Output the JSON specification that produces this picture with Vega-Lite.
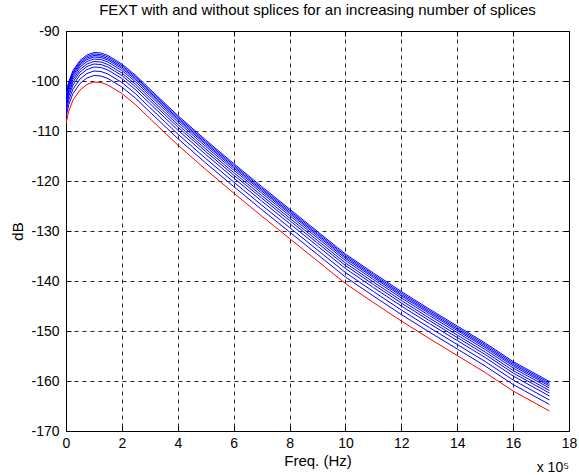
{
  "$schema": "https://vega.github.io/schema/vega-lite/v6.json",
  "width": 503,
  "height": 400,
  "autosize": "none",
  "padding": {"left": 66, "top": 31, "right": 10, "bottom": 44},
  "background": "white",
  "title": {"text": "FEXT with and without splices for an increasing number of splices", "font": "Liberation Sans", "fontSize": 15, "fontWeight": "normal", "color": "#000", "offset": 6, "anchor": "middle"},
  "config": {
    "view": {"stroke": "#000", "strokeWidth": 1},
    "axis": {"labelFont": "Liberation Sans", "labelFontSize": 14, "labelColor": "#000", "titleFont": "Liberation Sans", "titleFontSize": 15, "titleFontWeight": "normal", "titleColor": "#000", "domainColor": "#000", "tickColor": "#000", "gridColor": "#000", "gridDash": [4, 4], "gridOpacity": 0.85, "tickSize": -5, "labelFlush": false, "labelOverlap": false, "labelExpr": "'' + datum.value"}
  },
  "datasets": {
    "curves": [
      {"x": 0, "r": -108.5, "b1": -107.2, "b2": -106.3, "b3": -105.5, "b4": -104.9, "b5": -104.4, "b6": -103.9, "b7": -103.5, "b8": -103.2, "b9": -102.9, "b10": -102.6},
      {"x": 0.1, "r": -106, "b1": -104.7, "b2": -103.8, "b3": -103.0, "b4": -102.4, "b5": -101.9, "b6": -101.4, "b7": -101.0, "b8": -100.7, "b9": -100.4, "b10": -100.1},
      {"x": 0.25, "r": -103.8, "b1": -102.5, "b2": -101.6, "b3": -100.8, "b4": -100.2, "b5": -99.7, "b6": -99.2, "b7": -98.8, "b8": -98.5, "b9": -98.2, "b10": -97.9},
      {"x": 0.5, "r": -101.8, "b1": -100.5, "b2": -99.6, "b3": -98.8, "b4": -98.2, "b5": -97.7, "b6": -97.2, "b7": -96.8, "b8": -96.5, "b9": -96.2, "b10": -95.9},
      {"x": 0.75, "r": -100.7, "b1": -99.4, "b2": -98.5, "b3": -97.7, "b4": -97.1, "b5": -96.6, "b6": -96.1, "b7": -95.7, "b8": -95.4, "b9": -95.1, "b10": -94.8},
      {"x": 1.0, "r": -100.2, "b1": -98.9, "b2": -98.0, "b3": -97.2, "b4": -96.6, "b5": -96.1, "b6": -95.6, "b7": -95.2, "b8": -94.9, "b9": -94.6, "b10": -94.3},
      {"x": 1.25, "r": -100.3, "b1": -99.0, "b2": -98.1, "b3": -97.3, "b4": -96.7, "b5": -96.2, "b6": -95.7, "b7": -95.3, "b8": -95.0, "b9": -94.7, "b10": -94.4},
      {"x": 1.5, "r": -100.8, "b1": -99.5, "b2": -98.6, "b3": -97.8, "b4": -97.2, "b5": -96.7, "b6": -96.2, "b7": -95.8, "b8": -95.5, "b9": -95.2, "b10": -94.9},
      {"x": 2, "r": -102.5, "b1": -101.2, "b2": -100.3, "b3": -99.5, "b4": -98.9, "b5": -98.4, "b6": -97.9, "b7": -97.5, "b8": -97.2, "b9": -96.9, "b10": -96.6},
      {"x": 2.5, "r": -104.8, "b1": -103.5, "b2": -102.6, "b3": -101.8, "b4": -101.2, "b5": -100.7, "b6": -100.2, "b7": -99.8, "b8": -99.5, "b9": -99.2, "b10": -98.9},
      {"x": 3, "r": -107.5, "b1": -106.2, "b2": -105.3, "b3": -104.5, "b4": -103.9, "b5": -103.4, "b6": -102.9, "b7": -102.5, "b8": -102.2, "b9": -101.9, "b10": -101.6},
      {"x": 4, "r": -112.8, "b1": -111.5, "b2": -110.6, "b3": -109.8, "b4": -109.2, "b5": -108.7, "b6": -108.2, "b7": -107.8, "b8": -107.5, "b9": -107.2, "b10": -106.9},
      {"x": 5, "r": -117.7, "b1": -116.4, "b2": -115.5, "b3": -114.7, "b4": -114.1, "b5": -113.6, "b6": -113.1, "b7": -112.7, "b8": -112.4, "b9": -112.1, "b10": -111.8},
      {"x": 6, "r": -122.4, "b1": -121.1, "b2": -120.2, "b3": -119.4, "b4": -118.8, "b5": -118.3, "b6": -117.8, "b7": -117.4, "b8": -117.1, "b9": -116.8, "b10": -116.5},
      {"x": 7, "r": -127, "b1": -125.7, "b2": -124.8, "b3": -124.0, "b4": -123.4, "b5": -122.9, "b6": -122.4, "b7": -122.0, "b8": -121.7, "b9": -121.4, "b10": -121.1},
      {"x": 8, "r": -131.5, "b1": -130.2, "b2": -129.3, "b3": -128.5, "b4": -127.9, "b5": -127.4, "b6": -126.9, "b7": -126.5, "b8": -126.2, "b9": -125.9, "b10": -125.6},
      {"x": 9, "r": -136, "b1": -134.7, "b2": -133.8, "b3": -133.0, "b4": -132.4, "b5": -131.9, "b6": -131.4, "b7": -131.0, "b8": -130.7, "b9": -130.4, "b10": -130.1},
      {"x": 10, "r": -140.5, "b1": -139.2, "b2": -138.3, "b3": -137.5, "b4": -136.9, "b5": -136.4, "b6": -135.9, "b7": -135.5, "b8": -135.2, "b9": -134.9, "b10": -134.6},
      {"x": 11, "r": -144.3, "b1": -143.0, "b2": -142.1, "b3": -141.3, "b4": -140.7, "b5": -140.2, "b6": -139.7, "b7": -139.3, "b8": -139.0, "b9": -138.7, "b10": -138.4},
      {"x": 12, "r": -148, "b1": -146.7, "b2": -145.8, "b3": -145.0, "b4": -144.4, "b5": -143.9, "b6": -143.4, "b7": -143.0, "b8": -142.7, "b9": -142.4, "b10": -142.1},
      {"x": 13, "r": -151.5, "b1": -150.2, "b2": -149.3, "b3": -148.5, "b4": -147.9, "b5": -147.4, "b6": -146.9, "b7": -146.5, "b8": -146.2, "b9": -145.9, "b10": -145.6},
      {"x": 14, "r": -154.9, "b1": -153.6, "b2": -152.7, "b3": -151.9, "b4": -151.3, "b5": -150.8, "b6": -150.3, "b7": -149.9, "b8": -149.6, "b9": -149.3, "b10": -149.0},
      {"x": 15, "r": -158.3, "b1": -157.0, "b2": -156.1, "b3": -155.3, "b4": -154.7, "b5": -154.2, "b6": -153.7, "b7": -153.3, "b8": -153.0, "b9": -152.7, "b10": -152.4},
      {"x": 16, "r": -162.0, "b1": -160.7, "b2": -159.8, "b3": -159.0, "b4": -158.4, "b5": -157.9, "b6": -157.4, "b7": -157.0, "b8": -156.7, "b9": -156.4, "b10": -156.1},
      {"x": 17.3, "r": -166, "b1": -164.7, "b2": -163.8, "b3": -163.0, "b4": -162.4, "b5": -161.9, "b6": -161.4, "b7": -161.0, "b8": -160.7, "b9": -160.4, "b10": -160.1}
    ],
    "note": [{"x": 18, "y": -170, "t": "x 10⁵"}]
  },
  "layer": [
    {
      "data": {"name": "curves"},
      "transform": [{"fold": ["b1", "b2", "b3", "b4", "b5", "b6", "b7", "b8", "b9", "b10"], "as": ["series", "db"]}],
      "mark": {"type": "line", "color": "#0000ff", "strokeWidth": 1, "clip": true},
      "encoding": {
        "x": {"field": "x", "type": "quantitative", "scale": {"domain": [0, 18], "nice": false, "zero": false},
          "axis": {"orient": "bottom", "values": [0, 2, 4, 6, 8, 10, 12, 14, 16, 18], "grid": true, "title": "Freq. (Hz)", "labelPadding": 10, "titlePadding": 3}},
        "y": {"field": "db", "type": "quantitative", "scale": {"domain": [-170, -90], "nice": false, "zero": false},
          "axis": {"orient": "left", "values": [-170, -160, -150, -140, -130, -120, -110, -100, -90], "grid": true, "title": "dB", "labelPadding": 12, "titlePadding": 5}},
        "detail": {"field": "series"}
      }
    },
    {
      "data": {"name": "curves"},
      "mark": {"type": "line", "color": "#ff0000", "strokeWidth": 1, "clip": true},
      "encoding": {
        "x": {"field": "x", "type": "quantitative", "axis": {"orient": "top", "values": [0, 2, 4, 6, 8, 10, 12, 14, 16, 18], "labels": false, "grid": false, "title": null}},
        "y": {"field": "r", "type": "quantitative", "axis": {"orient": "right", "values": [-170, -160, -150, -140, -130, -120, -110, -100, -90], "labels": false, "grid": false, "title": null}}
      }
    },
    {
      "data": {"name": "note"},
      "mark": {"type": "text", "font": "Liberation Sans", "fontSize": 14, "color": "#000", "align": "right", "baseline": "alphabetic", "dy": 41, "dx": 0},
      "encoding": {
        "x": {"field": "x", "type": "quantitative", "axis": null},
        "y": {"field": "y", "type": "quantitative", "axis": null},
        "text": {"field": "t"}
      }
    }
  ],
  "resolve": {"axis": {"x": "independent", "y": "independent"}}
}
